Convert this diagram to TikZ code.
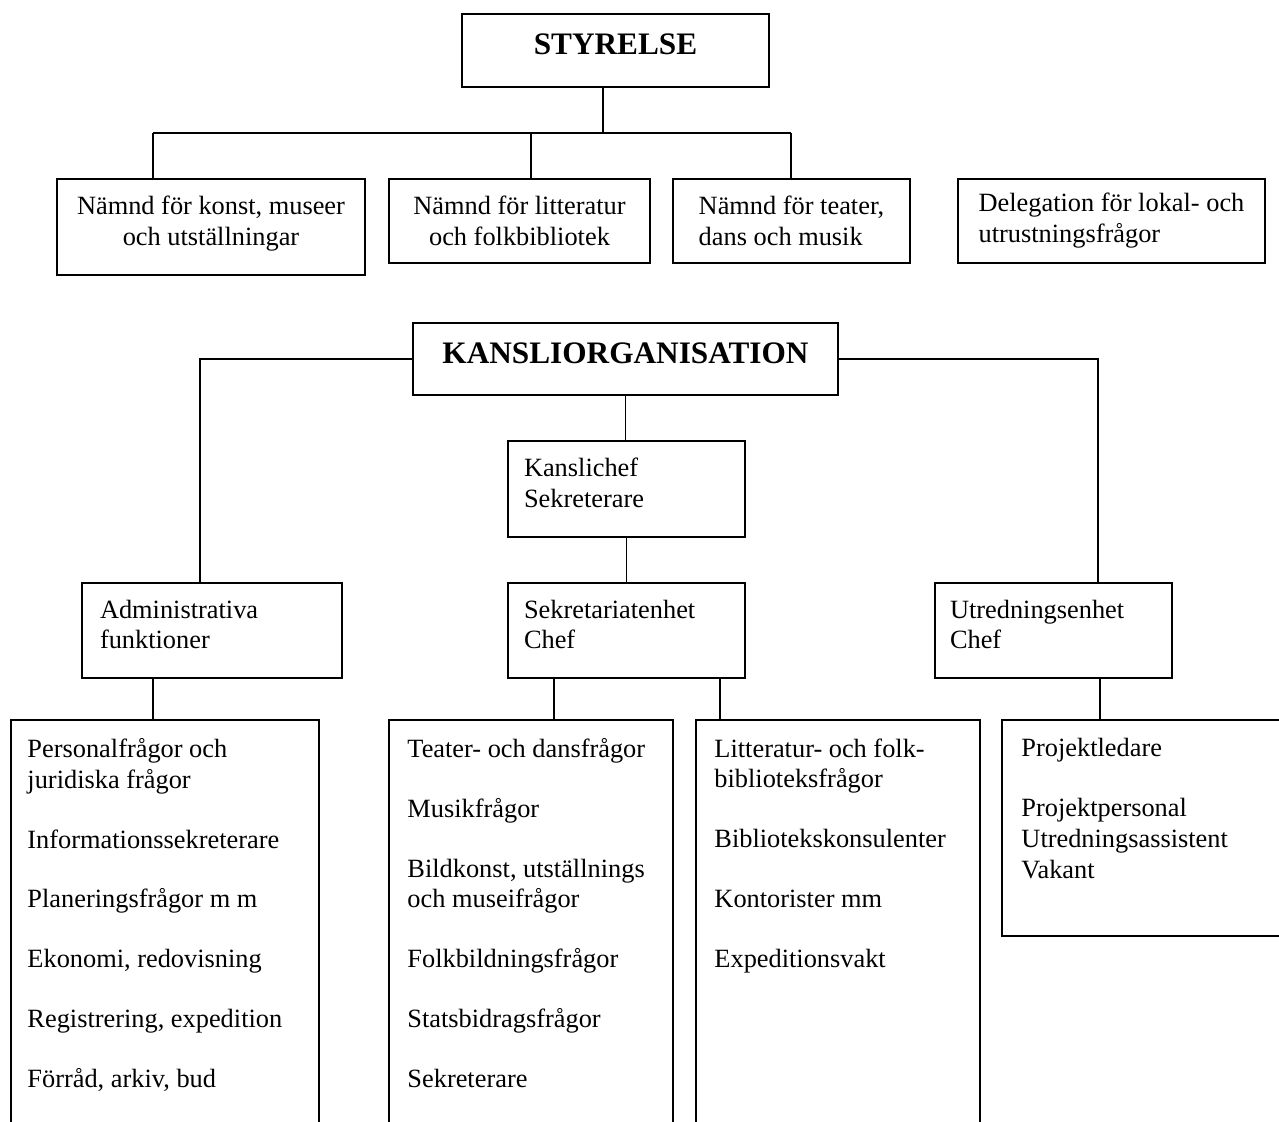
\documentclass[tikz,border=0pt]{standalone}
\usepackage{fontspec}
\setmainfont{Liberation Serif}
\usetikzlibrary{positioning}
\newcommand{\dropdown}{\rule[-7pt]{0pt}{7pt}}

\begin{document}
\begin{tikzpicture}[scale=0.2]
\tikzstyle{every node}+=[inner sep=0pt]
\tikzstyle{unit}=[draw=black, line width=1pt, font=\fontsize{15}{17.6}\selectfont]
\tikzstyle{head}=[unit, font=\fontsize{17.8}{21}\selectfont\bfseries, text depth=7pt]
\tikzstyle{listbox}=[draw=black, line width=1pt]
\tikzstyle{items}=[anchor=north west, align=left, font=\fontsize{15}{17.6}\selectfont]
\tikzstyle{wire}=[black, line width=0.8pt]
\useasboundingbox (0,0) rectangle (127.9,-112.2);
\clip (0,0) rectangle (127.9,-112.2);
% styrelse och namnder
\node [head, minimum width=6.14cm, minimum height=1.46cm] (styrelse) at (61.55,-5.05) {STYRELSE};
\node [unit, minimum width=6.16cm, minimum height=1.92cm, align=center] (konst) at (21.1,-22.7) {Nämnd för konst, museer\\och utställningar\dropdown};
\node [unit, minimum width=5.22cm, minimum height=1.68cm, align=center] (litt) at (51.95,-22.1) {Nämnd för litteratur\\och folkbibliotek};
\node [unit, minimum width=4.74cm, minimum height=1.68cm, align=left] (teater) at (79.15,-22.1) {Nämnd för teater,\\dans och musik};
\node [unit, minimum width=6.14cm, minimum height=1.68cm, align=left] (deleg) at (111.15,-22.1) {Delegation för lokal- och\\utrustningsfrågor};
\coordinate (s0) at (60.3,-13.3);
\coordinate (s1) at (15.3,-13.3);
\coordinate (s2) at (53.1,-13.3);
\coordinate (s3) at (79.1,-13.3);
\draw [wire] (s0 |- styrelse.south) -- (s0);
\draw [wire] (s1) -- (s3);
\draw [wire] (s1) -- (s1 |- konst.north);
\draw [wire] (s2) -- (s2 |- litt.north);
\draw [wire] (s3) -- (s3 |- teater.north);
% kansliorganisation
\node [head, minimum width=8.5cm, minimum height=1.44cm] (kansli) at (62.55,-35.9) {KANSLIORGANISATION};
\node [unit, minimum width=4.74cm, minimum height=1.92cm, text width=4.1cm, align=left] (kanslichef) at (62.65,-48.9) {Kanslichef\\Sekreterare\dropdown};
\node [unit, minimum width=5.2cm, minimum height=1.9cm, text width=4.48cm, align=left] (admin) at (21.2,-63.05) {Administrativa\\funktioner\dropdown};
\node [unit, minimum width=4.74cm, minimum height=1.9cm, text width=4.1cm, align=left] (sekr) at (62.65,-63.05) {Sekretariatenhet\\Chef\dropdown};
\node [unit, minimum width=4.74cm, minimum height=1.9cm, text width=4.14cm, align=left] (utred) at (105.35,-63.05) {Utredningsenhet\\Chef\dropdown};
\coordinate (k1) at (20.0,-35.9);
\coordinate (k2) at (109.8,-35.9);
\draw [wire] (kansli.west) -- (k1) -- (k1 |- admin.north);
\draw [wire] (kansli.east) -- (k2) -- (k2 |- utred.north);
\draw [wire] (kansli.south) -- (kansli.south |- kanslichef.north);
\draw [wire] (kanslichef.south) -- (kanslichef.south |- sekr.north);
% listor
\node [listbox, minimum width=6.16cm, minimum height=8.4cm] (adminlist) at (16.5,-93.0) {};
\node [listbox, minimum width=5.68cm, minimum height=8.4cm] (sekrlistA) at (53.1,-93.0) {};
\node [listbox, minimum width=5.68cm, minimum height=8.4cm] (sekrlistB) at (83.8,-93.0) {};
\node [listbox, minimum width=5.96cm, minimum height=4.32cm] (utredlist) at (115.1,-82.8) {};
\coordinate (d1) at (15.3,-70);
\coordinate (d2) at (55.4,-70);
\coordinate (d3) at (72.0,-70);
\coordinate (d4) at (110.0,-70);
\draw [wire] (d1 |- admin.south) -- (d1 |- adminlist.north);
\draw [wire] (d2 |- sekr.south) -- (d2 |- sekrlistA.north);
\draw [wire] (d3 |- sekr.south) -- (d3 |- sekrlistB.north);
\draw [wire] (d4 |- utred.south) -- (d4 |- utredlist.north);
\node [items, below right=0.38cm and 0.34cm of adminlist.north west] (admintext) {Personalfrågor och\\juridiska frågor\\[16.4pt]Informationssekreterare\\[16.4pt]Planeringsfrågor m m\\[16.4pt]Ekonomi, redovisning\\[16.4pt]Registrering, expedition\\[16.4pt]Förråd, arkiv, bud};
\node [items, below right=0.38cm and 0.38cm of sekrlistA.north west] (sekrtextA) {Teater- och dansfrågor\\[16.4pt]Musikfrågor\\[16.4pt]Bildkonst, utställnings\\och museifrågor\\[16.4pt]Folkbildningsfrågor\\[16.4pt]Statsbidragsfrågor\\[16.4pt]Sekreterare};
\node [items, below right=0.38cm and 0.38cm of sekrlistB.north west] (sekrtextB) {Litteratur- och folk-\\biblioteksfrågor\\[16.4pt]Bibliotekskonsulenter\\[16.4pt]Kontorister mm\\[16.4pt]Expeditionsvakt};
\node [items, below right=0.38cm and 0.4cm of utredlist.north west] (utredtext) {Projektledare\\[16.4pt]Projektpersonal\\Utredningsassistent\\Vakant};
\end{tikzpicture}
\end{document}
